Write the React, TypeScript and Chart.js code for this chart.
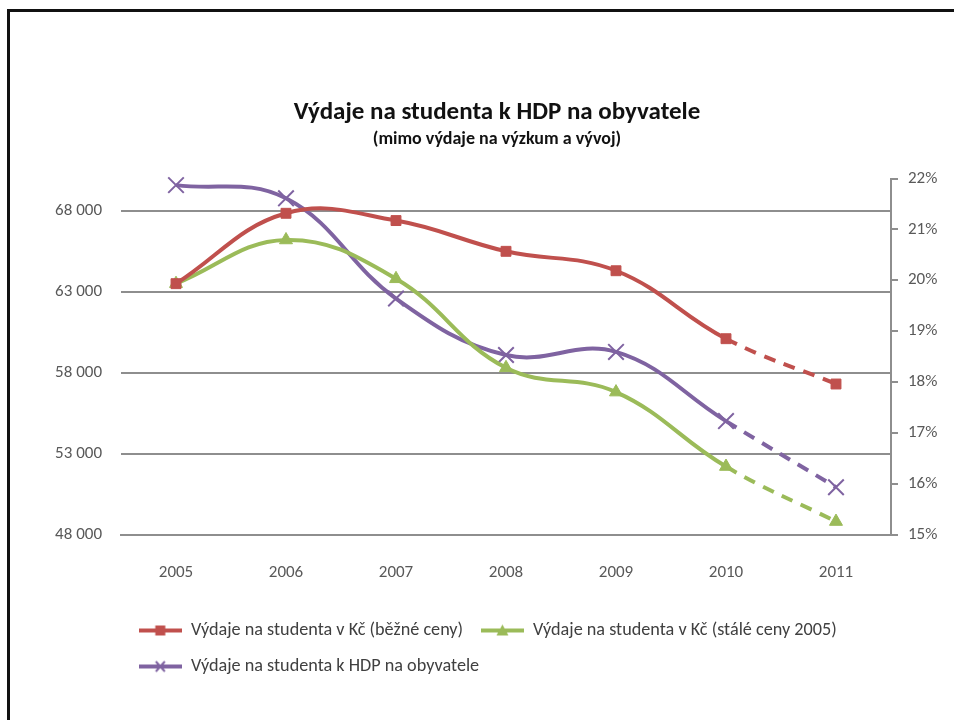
import React, { useEffect, useRef } from "react";
import { Chart, registerables } from "chart.js";

Chart.register(...registerables);

const years = ["2005", "2006", "2007", "2008", "2009", "2010", "2011"];
const currentPrices = [63500, 67850, 67400, 65500, 64300, 60100, 57300];
const constantPrices = [63500, 66200, 63800, 58300, 56800, 52200, 48800];
const gdpShare = [21.87, 21.61, 19.64, 18.53, 18.59, 17.23, 15.93];
const leftTicks = [48000, 53000, 58000, 63000, 68000];
const rightTicks = [15, 16, 17, 18, 19, 20, 21, 22];
const seriesLabels = [
  "Výdaje na studenta v Kč (běžné ceny)",
  "Výdaje na studenta v Kč (stálé ceny 2005)",
  "Výdaje na studenta k HDP na obyvatele",
];
const titleText = "Výdaje na studenta k HDP na obyvatele";
const subtitleText = "(mimo výdaje na výzkum a vývoj)";

const RED = "#C0504D";
const GREEN = "#9BBB59";
const PURPLE = "#7F63A1";
const GRID = "#8e8e8e";
const FONT = "Carlito, Lato, 'Open Sans', sans-serif";

function makeIcon(color: string, kind: string) {
  const c = document.createElement("canvas");
  c.width = 43;
  c.height = 16;
  const g = c.getContext("2d")!;
  g.strokeStyle = color;
  g.fillStyle = color;
  g.lineWidth = 4;
  g.beginPath();
  g.moveTo(0, 8);
  g.lineTo(43, 8);
  g.stroke();
  if (kind === "rect") {
    g.fillRect(16.5, 3, 10, 10);
  } else if (kind === "tri") {
    g.beginPath();
    g.moveTo(21.5, 2);
    g.lineTo(27.5, 13);
    g.lineTo(15.5, 13);
    g.closePath();
    g.fill();
  } else {
    g.lineWidth = 2;
    g.beginPath();
    g.moveTo(17, 3);
    g.lineTo(26, 13);
    g.moveTo(26, 3);
    g.lineTo(17, 13);
    g.stroke();
  }
  return c;
}

const dashLast = (ctx: any) => (ctx.p1DataIndex === years.length - 1 ? [12, 9] : undefined);

export default function App() {
  const ref = useRef<HTMLCanvasElement>(null);
  useEffect(() => {
    const icons = [makeIcon(RED, "rect"), makeIcon(GREEN, "tri"), makeIcon(PURPLE, "x")];
    const colors = [RED, GREEN, PURPLE];
    const chart = new Chart(ref.current!, {
      type: "line",
      data: {
        labels: years,
        datasets: [
          {
            label: seriesLabels[0],
            data: currentPrices,
            yAxisID: "y",
            borderColor: RED,
            backgroundColor: RED,
            borderWidth: 4,
            tension: 0.4,
            pointStyle: "rect",
            pointRadius: 7,
            pointBorderWidth: 1,
            pointBackgroundColor: RED,
            pointBorderColor: RED,
            segment: { borderDash: dashLast },
            clip: false,
          },
          {
            label: seriesLabels[1],
            data: constantPrices,
            yAxisID: "y",
            borderColor: GREEN,
            backgroundColor: GREEN,
            borderWidth: 4,
            tension: 0.4,
            pointStyle: "triangle",
            pointRadius: 7.5,
            pointBorderWidth: 1,
            pointBackgroundColor: GREEN,
            pointBorderColor: GREEN,
            segment: { borderDash: dashLast },
            clip: false,
          },
          {
            label: seriesLabels[2],
            data: gdpShare,
            yAxisID: "y2",
            borderColor: PURPLE,
            backgroundColor: PURPLE,
            borderWidth: 4,
            tension: 0.4,
            pointStyle: "crossRot",
            pointRadius: 11,
            pointBorderWidth: 2,
            pointBackgroundColor: PURPLE,
            pointBorderColor: PURPLE,
            segment: { borderDash: dashLast },
            clip: false,
          },
        ],
      },
      options: {
        responsive: false,
        animation: false,
        devicePixelRatio: 1,
        layout: { padding: { left: 40, right: 0, top: 0, bottom: 34.4 } },
        plugins: {
          tooltip: { enabled: false },
          title: {
            display: true,
            text: titleText,
            color: "#111",
            font: { family: FONT, size: 25, weight: "bold" },
            padding: { top: 97.5, bottom: 1.5 },
          },
          subtitle: {
            display: true,
            text: subtitleText,
            color: "#111",
            font: { family: FONT, size: 18, weight: "bold" },
            padding: { top: 0, bottom: 27.9 },
          },
          legend: {
            position: "bottom",
            align: "start",
            fullSize: false,
            labels: {
              usePointStyle: true,
              pointStyleWidth: 43,
              padding: 17.8,
              color: "#404040",
              font: { family: FONT, size: 18.2 },
              generateLabels: (ch: any) =>
                ch.data.datasets.map((ds: any, i: number) => ({
                  text: ds.label,
                  pointStyle: icons[i],
                  fillStyle: colors[i],
                  strokeStyle: colors[i],
                  lineWidth: 0,
                  hidden: false,
                  datasetIndex: i,
                  fontColor: "#404040",
                })),
            },
          },
        },
        scales: {
          x: {
            type: "category",
            offset: true,
            grid: { display: false, drawTicks: false },
            border: { display: true, color: GRID, width: 2 },
            ticks: { color: "#595959", padding: 28, font: { family: FONT, size: 17 } },
            afterFit: (s: any) => {
              s.height = 69.1;
            },
          },
          y: {
            type: "linear",
            position: "left",
            min: 48000,
            max: 70000,
            afterBuildTicks: (axis: any) => {
              axis.ticks = leftTicks.map((v) => ({ value: v }));
            },
            grid: { color: GRID, lineWidth: 2, drawTicks: false },
            border: { display: false },
            ticks: {
              color: "#595959",
              padding: 19,
              font: { family: FONT, size: 17 },
              callback: (v: any) => String(v).replace(/\B(?=(\d{3})+(?!\d))/g, " "),
            },
            afterFit: (s: any) => {
              s.width = 81;
            },
          },
          y2: {
            type: "linear",
            position: "right",
            min: 15,
            max: 22,
            afterBuildTicks: (axis: any) => {
              axis.ticks = rightTicks.map((v) => ({ value: v }));
            },
            grid: { drawOnChartArea: false, drawTicks: true, tickLength: 7, color: GRID, lineWidth: 2 },
            border: { display: true, color: GRID, width: 2 },
            ticks: {
              color: "#595959",
              padding: 10,
              font: { family: FONT, size: 17 },
              callback: (v: any) => v + "%",
            },
            afterFit: (s: any) => {
              s.width = 63;
            },
          },
        },
      },
    } as any);
    return () => chart.destroy();
  }, []);

  return (
    <div style={{ position: "fixed", left: 0, top: 0, width: 954, height: 720, overflow: "hidden", background: "#fff" }}>
      <div
        style={{
          position: "absolute",
          left: 7,
          top: 9,
          width: 1200,
          height: 1200,
          borderLeft: "3px solid #111",
          borderTop: "3px solid #111",
        }}
      />
      <canvas ref={ref} width={954} height={720} style={{ position: "absolute", left: 0, top: 0, display: "block" }} />
    </div>
  );
}
